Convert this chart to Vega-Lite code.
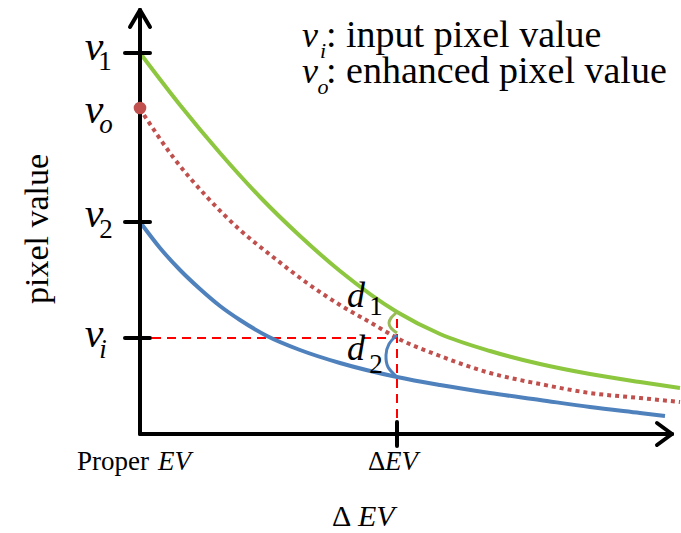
{
  "$schema": "https://vega.github.io/schema/vega-lite/v6.json",
  "width": 681,
  "height": 533,
  "padding": 0,
  "autosize": {"type": "none"},
  "background": "white",
  "config": {"view": {"stroke": null}},
  "datasets": {
    "segs": [
      {"x": 0, "y": 0, "x2": 0, "y2": 424},
      {"x": 0, "y": 0, "x2": 532, "y2": 0},
      {"x": -10, "y": 407, "x2": 0, "y2": 424},
      {"x": 10, "y": 407, "x2": 0, "y2": 424},
      {"x": 517, "y": 11, "x2": 532, "y2": 0},
      {"x": 517, "y": -11, "x2": 532, "y2": 0},
      {"x": -15, "y": 381, "x2": 10, "y2": 381},
      {"x": -15, "y": 212, "x2": 10, "y2": 212},
      {"x": -15, "y": 96, "x2": 10, "y2": 96},
      {"x": 257, "y": -12, "x2": 257, "y2": 12}
    ],
    "dashes": [
      {"x": 12, "y": 96, "x2": 257, "y2": 96},
      {"x": 257, "y": 1, "x2": 257, "y2": 120}
    ],
    "green": [
      {"x": 0, "y": 381}, {"x": 40, "y": 329}, {"x": 80, "y": 281}, {"x": 120, "y": 237},
      {"x": 160, "y": 198}, {"x": 200, "y": 163}, {"x": 257, "y": 122}, {"x": 300, "y": 100},
      {"x": 350, "y": 83}, {"x": 400, "y": 70}, {"x": 450, "y": 60}, {"x": 500, "y": 52},
      {"x": 540, "y": 46}
    ],
    "red": [
      {"x": 4, "y": 319}, {"x": 33, "y": 277}, {"x": 67, "y": 237}, {"x": 100, "y": 204},
      {"x": 133, "y": 177}, {"x": 167, "y": 151}, {"x": 200, "y": 129}, {"x": 233, "y": 110},
      {"x": 257, "y": 96}, {"x": 300, "y": 78}, {"x": 350, "y": 61}, {"x": 400, "y": 50},
      {"x": 450, "y": 41}, {"x": 500, "y": 36}, {"x": 540, "y": 32}
    ],
    "blue": [
      {"x": 0, "y": 212}, {"x": 20, "y": 186}, {"x": 40, "y": 164}, {"x": 60, "y": 145},
      {"x": 80, "y": 128}, {"x": 100, "y": 114}, {"x": 127, "y": 98}, {"x": 160, "y": 84},
      {"x": 200, "y": 71}, {"x": 257, "y": 57}, {"x": 300, "y": 49}, {"x": 350, "y": 41},
      {"x": 400, "y": 34}, {"x": 450, "y": 27}, {"x": 500, "y": 21}, {"x": 525, "y": 18}
    ],
    "arc1": [
      {"x": 257, "y": 122, "o": 1}, {"x": 251, "y": 116, "o": 2}, {"x": 249, "y": 111, "o": 3},
      {"x": 251, "y": 106, "o": 4}, {"x": 257, "y": 101, "o": 5}
    ],
    "arc2": [
      {"x": 257, "y": 99, "o": 1}, {"x": 249, "y": 90, "o": 2}, {"x": 246, "y": 79, "o": 3},
      {"x": 248, "y": 67, "o": 4}, {"x": 257, "y": 57, "o": 5}
    ],
    "vlabels": [
      {"x": -46, "y": 374, "t": "v"},
      {"x": -46, "y": 311, "t": "v"},
      {"x": -46, "y": 207, "t": "v"},
      {"x": -46, "y": 87, "t": "v"}
    ],
    "vsubs": [
      {"x": -35, "y": 364, "t": "1"},
      {"x": -34, "y": 196, "t": "2"}
    ],
    "vsubsit": [
      {"x": -34, "y": 301, "t": "o"},
      {"x": -37, "y": 76, "t": "i"}
    ],
    "legv": [
      {"x": 170, "y": 387, "t": "v"},
      {"x": 170, "y": 351, "t": "v"}
    ],
    "legsub": [
      {"x": 183, "y": 376, "t": "i"},
      {"x": 183, "y": 340, "t": "o"}
    ],
    "legtext": [
      {"x": 186, "y": 387, "t": ": input pixel value"},
      {"x": 186, "y": 351, "t": ": enhanced pixel value"}
    ],
    "xup": [
      {"x": -63, "y": -36, "t": "Proper"},
      {"x": 228, "y": -36, "t": "Δ"}
    ],
    "xit": [
      {"x": 18, "y": -36, "t": "EV"},
      {"x": 245, "y": -36, "t": "EV"}
    ],
    "title1": [{"x": 192, "y": -92, "t": "Δ"}],
    "title2": [{"x": 218, "y": -92, "t": "EV"}],
    "ytitle": [{"x": -102, "y": 205, "t": "pixel value"}],
    "dl": [
      {"x": 207, "y": 127, "t": "d"},
      {"x": 207, "y": 74, "t": "d"}
    ],
    "dsub": [
      {"x": 236, "y": 119, "t": "1"},
      {"x": 236, "y": 61, "t": "2"}
    ],
    "dot": [{"x": 0, "y": 326}]
  },
  "encoding": {
    "x": {"field": "x", "type": "quantitative", "axis": null, "scale": {"domain": [-140, 541], "nice": false, "zero": false}},
    "y": {"field": "y", "type": "quantitative", "axis": null, "scale": {"domain": [-99, 434], "nice": false, "zero": false}}
  },
  "layer": [
    {"data": {"name": "dashes"}, "mark": {"type": "rule", "color": "#FF0000", "strokeWidth": 2, "strokeDash": [9, 6]},
     "encoding": {"x2": {"field": "x2"}, "y2": {"field": "y2"}}},
    {"data": {"name": "green"}, "mark": {"type": "line", "color": "#8DC63F", "strokeWidth": 4, "interpolate": "monotone"}, "encoding": {}},
    {"data": {"name": "red"}, "mark": {"type": "line", "color": "#C0504D", "strokeWidth": 4, "strokeDash": [4, 4], "interpolate": "monotone"}, "encoding": {}},
    {"data": {"name": "blue"}, "mark": {"type": "line", "color": "#4F81BD", "strokeWidth": 4, "interpolate": "monotone"}, "encoding": {}},
    {"data": {"name": "arc1"}, "mark": {"type": "line", "color": "#9BBB59", "strokeWidth": 3, "interpolate": "cardinal"},
     "encoding": {"order": {"field": "o"}}},
    {"data": {"name": "arc2"}, "mark": {"type": "line", "color": "#4F81BD", "strokeWidth": 3, "interpolate": "cardinal"},
     "encoding": {"order": {"field": "o"}}},
    {"data": {"name": "segs"}, "mark": {"type": "rule", "color": "#000000", "strokeWidth": 4, "strokeCap": "round"},
     "encoding": {"x2": {"field": "x2"}, "y2": {"field": "y2"}}},
    {"data": {"name": "dot"}, "mark": {"type": "point", "filled": true, "color": "#C0504D", "size": 160, "opacity": 1}},
    {"data": {"name": "vlabels"}, "mark": {"type": "text", "font": "Liberation Serif", "fontStyle": "italic", "fontSize": 42, "align": "center", "baseline": "alphabetic", "color": "#000"},
     "encoding": {"text": {"field": "t"}}},
    {"data": {"name": "vsubs"}, "mark": {"type": "text", "font": "Liberation Serif", "fontSize": 27, "align": "center", "baseline": "alphabetic", "color": "#000"},
     "encoding": {"text": {"field": "t"}}},
    {"data": {"name": "vsubsit"}, "mark": {"type": "text", "font": "Liberation Serif", "fontStyle": "italic", "fontSize": 27, "align": "center", "baseline": "alphabetic", "color": "#000"},
     "encoding": {"text": {"field": "t"}}},
    {"data": {"name": "legv"}, "mark": {"type": "text", "font": "Liberation Serif", "fontStyle": "italic", "fontSize": 36, "align": "center", "baseline": "alphabetic", "color": "#000"},
     "encoding": {"text": {"field": "t"}}},
    {"data": {"name": "legsub"}, "mark": {"type": "text", "font": "Liberation Serif", "fontStyle": "italic", "fontSize": 22, "align": "center", "baseline": "alphabetic", "color": "#000"},
     "encoding": {"text": {"field": "t"}}},
    {"data": {"name": "legtext"}, "mark": {"type": "text", "font": "Liberation Serif", "fontSize": 38, "align": "left", "baseline": "alphabetic", "color": "#000"},
     "encoding": {"text": {"field": "t"}}},
    {"data": {"name": "xup"}, "mark": {"type": "text", "font": "Liberation Serif", "fontSize": 27, "align": "left", "baseline": "alphabetic", "color": "#000"},
     "encoding": {"text": {"field": "t"}}},
    {"data": {"name": "xit"}, "mark": {"type": "text", "font": "Liberation Serif", "fontStyle": "italic", "fontSize": 27, "align": "left", "baseline": "alphabetic", "color": "#000"},
     "encoding": {"text": {"field": "t"}}},
    {"data": {"name": "title1"}, "mark": {"type": "text", "font": "Liberation Serif", "fontSize": 30, "align": "left", "baseline": "alphabetic", "color": "#000"},
     "encoding": {"text": {"field": "t"}}},
    {"data": {"name": "title2"}, "mark": {"type": "text", "font": "Liberation Serif", "fontStyle": "italic", "fontSize": 30, "align": "left", "baseline": "alphabetic", "color": "#000"},
     "encoding": {"text": {"field": "t"}}},
    {"data": {"name": "ytitle"}, "mark": {"type": "text", "font": "Liberation Serif", "fontSize": 34, "align": "center", "baseline": "middle", "angle": 270, "color": "#000"},
     "encoding": {"text": {"field": "t"}}},
    {"data": {"name": "dl"}, "mark": {"type": "text", "font": "Liberation Serif", "fontStyle": "italic", "fontSize": 36, "align": "left", "baseline": "alphabetic", "color": "#000"},
     "encoding": {"text": {"field": "t"}}},
    {"data": {"name": "dsub"}, "mark": {"type": "text", "font": "Liberation Serif", "fontSize": 27, "align": "center", "baseline": "alphabetic", "color": "#000"},
     "encoding": {"text": {"field": "t"}}}
  ]
}
